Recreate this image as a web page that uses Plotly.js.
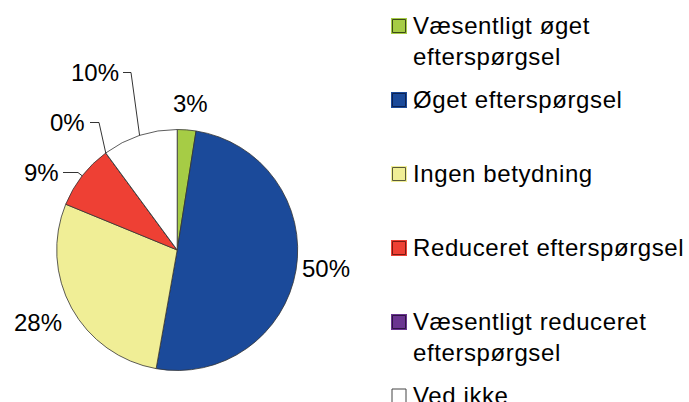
<!DOCTYPE html>
<html>
<head>
<meta charset="utf-8">
<script src="https://cdn.plot.ly/plotly-3.0.1.min.js"></script>
<style>
html,body{margin:0;padding:0;background:#fff;}
#chart{width:689px;height:402px;}
</style>
</head>
<body>
<div id="chart"></div>
<script>
// ---- data ----
var categories = [
  "Væsentligt øget<br>efterspørgsel",
  "Øget efterspørgsel",
  "Ingen betydning",
  "Reduceret efterspørgsel",
  "Væsentligt reduceret<br>efterspørgsel",
  "Ved ikke"
];
var shares = [2.5, 50.3, 28.4, 8.7, 0, 10.1];
var sliceColors = ["#a6cc45", "#1b4a9a", "#f0ee96", "#ee4034", "#6b3591", "#ffffff"];
var edgeColors = ["#3c4a18", "#0c2252", "#5a5a38", "#7a1a12", "#2e1444", "#444444"];

// ---- layout constants (pixels) ----
var W = 689, H = 402;
var CX = 177.2, CY = 250, R = 120.5;
var FONT = "Liberation Sans, Arial, sans-serif";
function px(x){ return x / W; }
function py(y){ return 1 - y / H; }

// label placement for each slice: text center, and optional leader start/elbow x
var labelPos = [
  {x:190, y:103},
  {x:326, y:268},
  {x:38,  y:322},
  {x:41,  y:172.5, lineFrom:63, elbow:78},
  {x:67.5,y:122.5, lineFrom:90, elbow:99},
  {x:95,  y:72.5,  lineFrom:123, elbow:131}
];

var total = shares.reduce(function(a,b){return a+b;},0);
var cum = 0;
var annotations = [];
var shapes = [];

// percent labels with leader lines (anchored to slice angles)
shares.forEach(function(v, i){
  var start = cum; cum += v;
  var mid = (start + v/2) / total * 2 * Math.PI;
  var ex = CX + R * Math.sin(mid), ey = CY - R * Math.cos(mid);
  var lp = labelPos[i];
  annotations.push({
    x: px(lp.x), y: py(lp.y), xref:'paper', yref:'paper',
    xanchor:'center', yanchor:'middle', showarrow:false,
    text: Math.round(v / total * 100) + '%',
    font:{family:FONT, size:24, color:'#000'}
  });
  if (lp.lineFrom !== undefined) {
    shapes.push({
      type:'path', xref:'paper', yref:'paper',
      path: 'M' + px(lp.lineFrom) + ',' + py(lp.y) + ' L' + px(lp.elbow) + ',' + py(lp.y) + ' L' + px(ex) + ',' + py(ey),
      line:{color:'#000', width:0.8}
    });
  }
});

// manual legend with uniform slots
var LEG_X = 391, LEG_TXT = 411, LEG_Y0 = 26, LEG_STEP = 74, SQ = 16;
categories.forEach(function(c, i){
  var cy = LEG_Y0 + i * LEG_STEP;
  if (i < 5) {
    shapes.push({type:'rect', xref:'paper', yref:'paper',
      x0:px(LEG_X), x1:px(LEG_X+SQ), y0:py(cy-SQ/2), y1:py(cy+SQ/2),
      fillcolor:sliceColors[i], line:{width:0}});
    shapes.push({type:'rect', xref:'paper', yref:'paper',
      x0:px(LEG_X+1.5), x1:px(LEG_X+SQ-1.5), y0:py(cy-SQ/2+1.5), y1:py(cy+SQ/2-1.5),
      fillcolor:sliceColors[i], line:{width:1, color:edgeColors[i]}});
  } else {
    shapes.push({type:'rect', xref:'paper', yref:'paper',
      x0:px(LEG_X+1), x1:px(LEG_X+SQ-1), y0:py(cy-SQ/2+1), y1:py(cy+SQ/2-1),
      fillcolor:sliceColors[i], line:{width:1, color:edgeColors[i]}});
  }
  annotations.push({
    x: px(LEG_TXT), y: py(cy - 16), xref:'paper', yref:'paper',
    xanchor:'left', yanchor:'top', align:'left', showarrow:false,
    text: '<span style="letter-spacing:0.6px">' + c.split('<br>').join('</span><br><span style="letter-spacing:0.6px">') + '</span>',
    font:{family:FONT, size:24, color:'#000'}
  });
});

var trace = {
  type:'pie',
  labels: categories,
  values: shares,
  sort:false,
  direction:'clockwise',
  rotation:0,
  textinfo:'none',
  hoverinfo:'label+percent',
  showlegend:false,
  marker:{colors:sliceColors, line:{color:'#333', width:0.8}},
  domain:{x:[px(CX-R), px(CX+R)], y:[py(CY+R), py(CY-R)]}
};

var layout = {
  width:W, height:H,
  margin:{l:0,r:0,t:0,b:0},
  paper_bgcolor:'#fff',
  showlegend:false,
  annotations:annotations,
  shapes:shapes
};

Plotly.newPlot('chart', [trace], layout, {displayModeBar:false, staticPlot:true});
</script>
</body>
</html>
